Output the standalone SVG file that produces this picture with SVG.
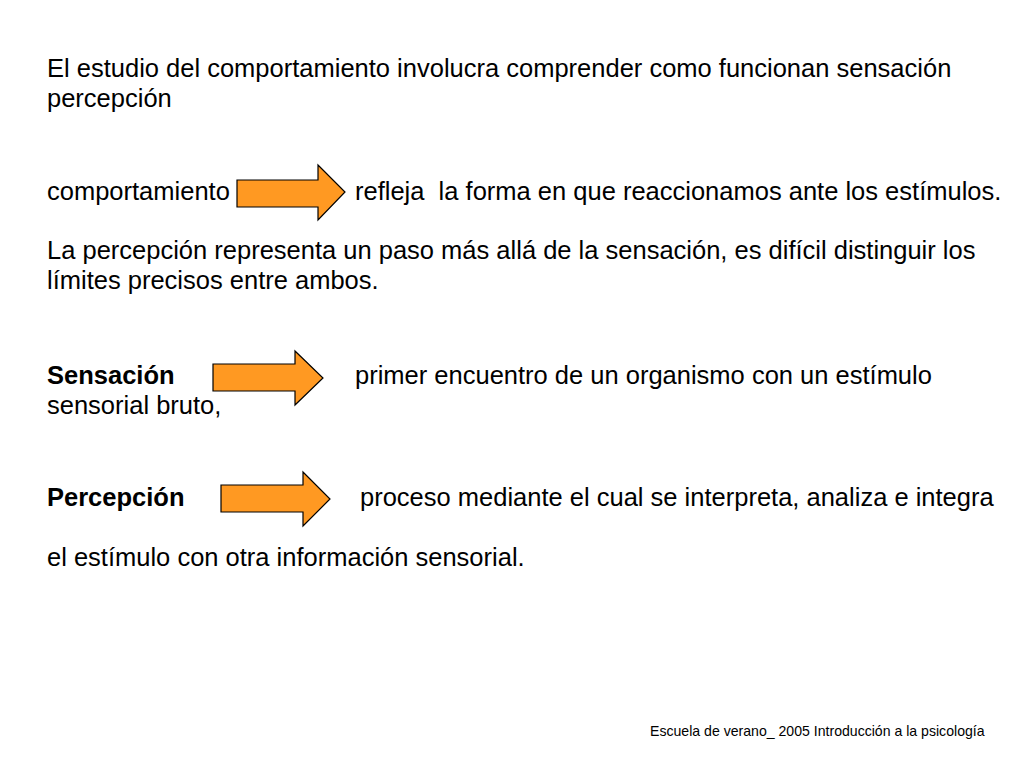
<svg xmlns="http://www.w3.org/2000/svg" width="1024" height="768" viewBox="0 0 1024 768">
<style>
text{font-family:"Liberation Sans",Arial,sans-serif;font-size:25.5px;fill:#000}
.b{font-weight:bold}
.f{font-size:14.1px}
.arr{fill:#ff9922;stroke:#000;stroke-width:1.2}
</style>
<rect width="1024" height="768" fill="#fff"/>
<text x="47" y="77">El estudio del comportamiento involucra comprender como funcionan sensación</text>
<text x="47" y="107">percepción</text>
<text x="47" y="200">comportamiento</text>
<text x="355" y="200" xml:space="preserve">refleja  la forma en que reaccionamos ante los estímulos.</text>
<text x="47" y="259">La percepción representa un paso más allá de la sensación, es difícil distinguir los</text>
<text x="47" y="289">límites precisos entre ambos.</text>
<text x="47" y="384" class="b">Sensación</text>
<text x="355" y="384">primer encuentro de un organismo con un estímulo</text>
<text x="47" y="414">sensorial bruto,</text>
<text x="47" y="506" class="b">Percepción</text>
<text x="360" y="506">proceso mediante el cual se interpreta, analiza e integra</text>
<text x="47" y="566">el estímulo con otra información sensorial.</text>
<text x="650" y="736" class="f">Escuela de verano_ 2005 Introducción a la psicología</text>
<g id="connectors">
<polygon class="arr" points="237,180 318,180 318,165 345,192 318,220 318,207 237,207"/>
<polygon class="arr" points="213,364 295,364 295,351 323,378 295,405 295,391 213,391"/>
<polygon class="arr" points="221,485 303,485 303,472 330,499 303,526 303,512 221,512"/>
</g>
</svg>
